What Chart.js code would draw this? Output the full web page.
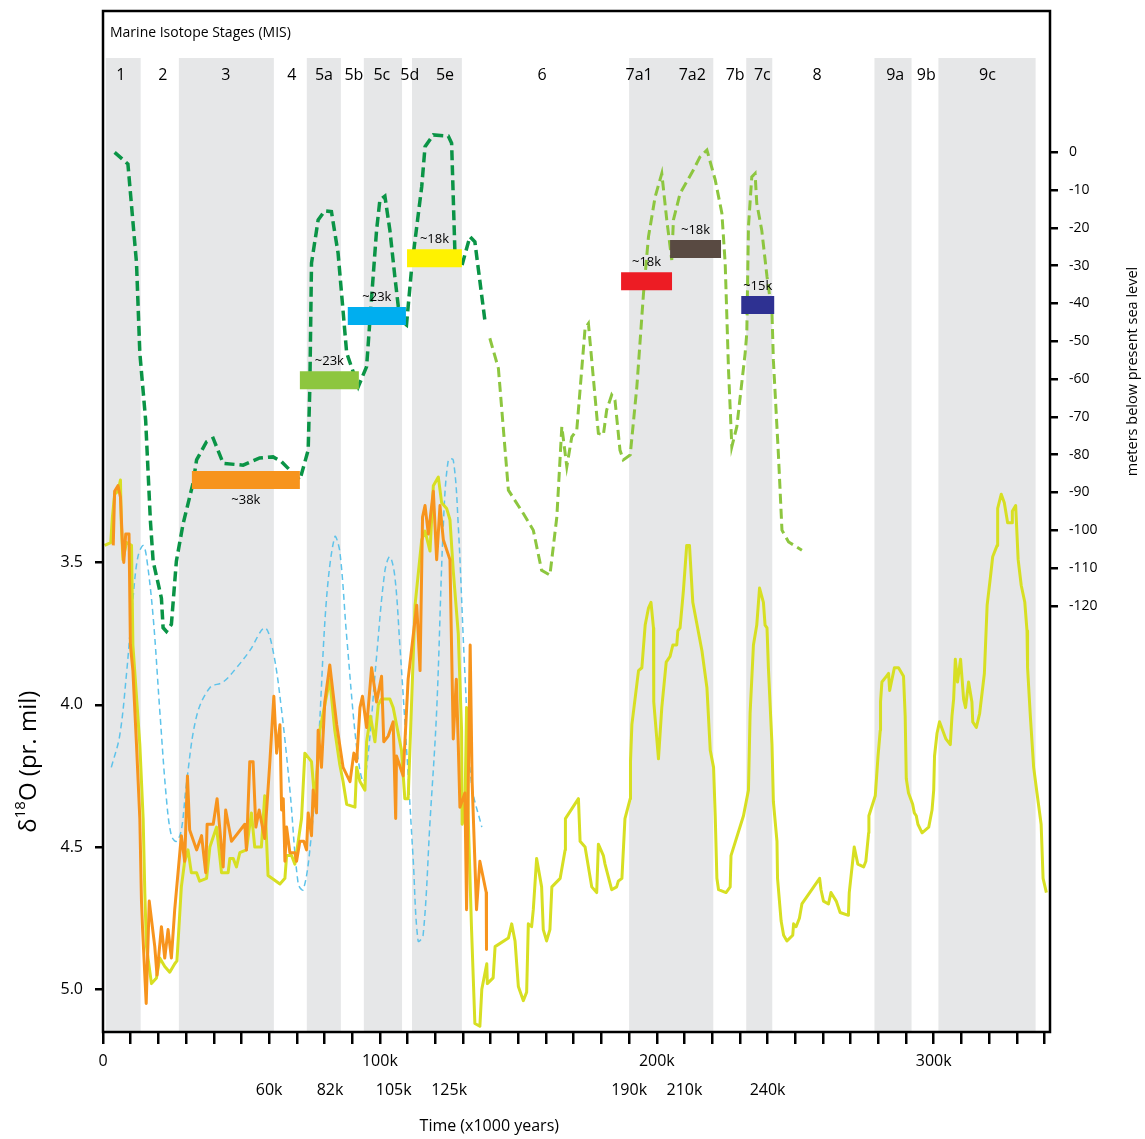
<!DOCTYPE html>
<html>
<head>
<meta charset="utf-8">
<title>Marine Isotope Stages</title>
<script src="https://cdn.jsdelivr.net/npm/chart.js@4.4.1/dist/chart.umd.min.js"></script>
<style>
  html, body { margin: 0; padding: 0; background: #fff; }
  canvas { display: block; }
</style>
</head>
<body>
<canvas id="misChart" width="1145" height="1139"></canvas>
<script>
// Data (age in kyr)
const yellowAge = [0.6,2.8,3.4,4.2,5.4,6.3,6.6,7.2,8.5,10.3,10.8,13.3,14.5,15.1,15.7,17.5,19.3,20.5,22.3,24.1,25.9,26.7,28.3,29.5,30.7,31.9,33.8,34.9,37.4,38.6,41.0,42.8,45.2,45.8,47.0,48.2,49.4,51.8,53.6,54.8,57.2,58.4,59.6,63.9,65.7,66.3,68.1,69.3,71.7,72.9,75.3,76.5,78.3,81.9,83.7,85.5,86.7,88.0,91.0,91.6,92.8,94.6,95.2,96.6,98.2,99.4,100.6,103.6,104.8,107.8,109.0,110.2,112.7,115.1,116.3,118.1,119.3,121.1,122.3,124.1,125.3,126.5,128.3,129.5,129.7,130.7,131.3,131.9,133.1,134.3,136.1,136.8,138.6,138.8,140.9,141.6,146.4,147.6,148.8,150.0,151.8,153.0,153.6,154.8,155.4,156.6,158.4,159.0,160.2,161.4,162.1,165.1,166.9,167.0,171.7,172.3,174.1,176.5,178.3,178.9,180.7,181.3,183.7,185.5,186.1,187.4,188.5,190.4,190.5,191.0,193.4,194.6,195.8,197.0,197.9,198.8,198.9,200.6,201.8,203.4,204.8,205.8,207.2,207.6,208.4,209.6,210.8,211.8,213.0,216.3,218.1,219.3,220.5,221.1,221.7,222.3,225.0,226.5,226.8,231.3,233.1,233.7,234.9,236.1,237.1,238.5,239.1,239.8,240.3,241.6,242.1,243.4,243.6,244.9,245.8,247.0,249.1,249.4,250.3,251.5,252.4,258.8,259.3,260.2,262.0,262.9,264.8,266.2,269.2,269.5,271.3,272.6,274.7,275.5,276.5,276.6,278.9,279.9,280.7,280.8,281.3,282.9,283.7,284.1,285.8,287.3,289.1,289.7,290.1,290.9,292.4,293.0,293.7,294.3,295.8,298.2,299.4,300.0,300.3,301.2,302.1,304.4,306.0,306.6,307.2,307.8,308.6,309.7,310.8,311.5,312.6,313.8,314.1,315.4,316.6,318.3,319.3,320.5,321.3,322.9,323.1,324.4,325.5,326.7,328.3,328.4,329.6,330.5,331.6,332.9,333.7,333.9,334.9,336.1,337.3,338.8,339.5,340.7];
const yellowD18O = [3.44,3.43,3.34,3.26,3.25,3.21,3.36,3.49,3.43,3.44,3.79,4.14,4.40,4.66,4.85,4.98,4.96,4.89,4.92,4.94,4.91,4.90,4.64,4.55,4.51,4.59,4.59,4.62,4.61,4.50,4.43,4.59,4.59,4.54,4.54,4.57,4.52,4.51,4.38,4.50,4.50,4.32,4.60,4.63,4.61,4.53,4.53,4.56,4.40,4.17,4.20,4.34,4.09,3.91,4.09,4.21,4.27,4.35,4.36,4.22,4.27,4.30,4.13,4.04,4.13,4.00,3.98,3.98,4.01,4.16,4.33,4.33,3.65,3.42,3.39,3.46,3.23,3.20,3.29,3.31,3.35,3.53,3.75,4.09,4.42,4.38,4.01,4.40,4.79,5.12,5.13,5.00,4.91,4.98,4.96,4.85,4.82,4.77,4.83,4.99,5.04,5.01,4.77,4.78,4.72,4.54,4.64,4.79,4.83,4.79,4.64,4.61,4.51,4.40,4.33,4.48,4.50,4.64,4.66,4.49,4.53,4.56,4.65,4.64,4.62,4.61,4.40,4.33,4.20,4.07,3.88,3.87,3.72,3.66,3.64,3.73,3.99,4.19,4.01,3.85,3.83,3.79,3.79,3.74,3.73,3.60,3.44,3.44,3.64,3.81,3.94,4.16,4.22,4.39,4.61,4.65,4.66,4.64,4.53,4.39,4.30,4.03,3.79,3.72,3.59,3.64,3.72,3.73,3.87,4.14,4.34,4.48,4.61,4.76,4.81,4.83,4.81,4.77,4.78,4.75,4.70,4.61,4.65,4.69,4.70,4.66,4.69,4.73,4.74,4.66,4.50,4.56,4.57,4.55,4.45,4.39,4.32,4.18,4.09,3.99,3.92,3.90,3.89,3.95,3.87,3.87,3.90,4.04,4.26,4.31,4.35,4.38,4.39,4.42,4.45,4.43,4.37,4.30,4.18,4.10,4.06,4.12,4.14,4.04,3.98,3.84,3.92,3.84,3.98,4.01,3.92,3.99,4.06,4.08,4.03,3.89,3.65,3.55,3.48,3.44,3.31,3.26,3.29,3.36,3.36,3.32,3.30,3.49,3.58,3.64,3.74,3.87,4.04,4.22,4.31,4.42,4.61,4.66];

const orangeAge = [3.7,4.2,5.4,6.3,7.0,7.5,8.2,9.4,9.9,10.8,12.1,13.3,13.9,14.3,15.6,16.7,18.7,19.5,21.1,22.3,23.5,24.7,25.9,28.3,29.5,30.5,31.3,33.8,35.6,37.1,37.6,39.8,41.2,43.4,44.3,46.4,51.2,51.8,53.0,54.2,55.2,56.4,58.4,60.2,61.7,62.7,63.9,64.5,65.1,65.7,66.3,67.5,69.3,69.9,71.1,72.5,73.5,74.1,75.3,75.9,77.1,77.7,78.9,80.1,81.9,84.4,86.7,89.2,90.6,91.6,92.8,93.7,95.2,97.0,98.8,100.6,101.4,103.0,104.8,105.7,106.0,108.4,110.2,113.3,114.5,115.4,116.3,117.5,119.3,120.5,121.7,122.9,125.3,126.5,127.6,128.3,128.9,130.7,131.3,132.6,133.3,134.9,136.1,138.4,138.5];
const orangeD18O = [3.44,3.25,3.23,3.27,3.43,3.50,3.40,3.40,3.79,3.88,4.14,4.40,4.69,4.79,5.05,4.69,4.85,4.95,4.78,4.89,4.79,4.89,4.72,4.46,4.55,4.25,4.44,4.51,4.46,4.59,4.42,4.42,4.33,4.57,4.37,4.48,4.42,4.51,4.20,4.20,4.43,4.37,4.47,4.21,3.97,4.17,4.07,4.37,4.33,4.55,4.43,4.52,4.52,4.55,4.48,4.48,4.51,4.38,4.46,4.30,4.38,4.09,4.22,3.99,3.86,4.07,4.22,4.27,4.17,4.20,4.01,3.97,4.08,3.87,3.99,3.90,4.13,4.11,4.06,4.40,4.18,4.25,3.91,3.65,3.88,3.34,3.30,3.40,3.25,3.49,3.30,3.42,3.49,4.12,3.91,4.14,4.36,4.31,4.72,3.79,4.27,4.72,4.55,4.66,4.86];

// thin blue dashed curve (plotted against the left axis)
const blueAge = [3.0,6.0,8.5,10.8,12.6,14.5,15.7,18.1,20.5,22.9,24.7,26.5,28.3,30.1,33.8,38.6,43.4,48.2,53.0,58.4,61.4,64.5,67.5,70.5,72.3,74.7,77.7,80.7,83.7,85.5,88.0,91.6,94.0,95.8,98.8,101.8,103.6,105.4,107.2,109.6,112.0,113.8,115.6,118.1,120.5,122.9,124.7,126.5,128.3,130.7,133.1,136.8];
const blueVal = [4.22,4.11,3.89,3.63,3.48,3.44,3.48,3.69,4.02,4.33,4.46,4.48,4.44,4.28,4.04,3.94,3.92,3.87,3.81,3.73,3.81,4.02,4.30,4.63,4.65,4.51,4.15,3.63,3.41,3.46,3.76,4.15,4.27,4.17,3.83,3.53,3.48,3.55,3.79,4.15,4.54,4.83,4.81,4.41,4.02,3.37,3.14,3.14,3.37,3.89,4.28,4.43];

// sea level (m), right axis
const greenAge = [4.2,9.0,12.1,13.3,15.4,17.1,18.1,21.1,21.7,22.9,24.7,26.5,28.9,32.5,33.8,37.4,39.8,43.4,50.6,56.6,61.4,64.5,67.5,71.1,74.1,74.7,75.3,77.7,80.1,82.5,84.9,88.0,92.2,95.2,96.4,98.8,100.0,101.8,103.6,105.4,107.2,109.6,111.5,115.1,116.3,119.3,124.7,125.9,127.1,129.5,132.5,134.3,137.9];
const greenSea = [0,-3.1,-29.3,-53.1,-70.9,-97.3,-108.2,-118.0,-125.8,-126.8,-124.9,-108.2,-98.4,-87.6,-81.4,-76.6,-75.7,-82.3,-82.8,-80.9,-80.6,-81.9,-84.1,-86.7,-78.8,-62.0,-29.3,-17.9,-15.5,-15.7,-26.7,-53.1,-62.0,-56.7,-44.4,-20.6,-12.6,-11.6,-20.6,-32.9,-44.4,-45.7,-30.3,-9.1,1.5,4.6,4.3,2.4,-26.7,-30.3,-22.3,-23.7,-44.4];
const limeAge = [139.7,142.8,146.4,151.8,155.4,158.4,161.4,163.9,165.7,167.5,169.3,171.1,174.1,175.3,178.9,180.7,181.9,183.7,184.9,186.7,187.9,190.4,192.8,195.2,197.0,199.4,201.8,203.6,205.4,206.0,208.4,210.8,213.2,215.6,218.1,221.1,223.5,224.7,225.9,227.1,228.9,231.9,232.5,233.1,234.3,235.5,236.1,237.9,239.8,241.6,242.1,243.9,245.2,247.6,252.4];
const limeSea = [-49.2,-57.2,-89.4,-95.6,-100.0,-110.6,-111.9,-96.5,-72.6,-83.2,-75.3,-73.5,-46.6,-45.3,-74.4,-74.8,-68.2,-64.2,-65.6,-78.8,-81.4,-80.1,-62.0,-37.3,-22.3,-11.8,-5.6,-17.9,-28.5,-17.9,-10.9,-7.8,-4.7,-1.2,0.6,-7.3,-16.1,-29.4,-57.6,-77.9,-72.6,-53.2,-47.9,-19.7,-6.5,-5.6,-13.5,-20.6,-32.9,-42.6,-55.0,-79.7,-100.0,-103.1,-105.3];

// highstand duration bars
const barStart = [32.1, 71.1, 88.4, 109.8, 187.1, 204.8, 230.5];
const barEnd = [71.1, 92.4, 109.4, 129.6, 205.5, 223.2, 242.4];
const barLevel = [-86.7, -60.3, -43.3, -28.0, -34.1, -25.6, -40.4];
const barLabels = ['~38k', '~23k', '~23k', '~18k', '~18k', '~18k', '~15k'];
const barLabelBelow = [true, false, false, false, false, false, false];
const barColors = ['#f7941d', '#8dc63f', '#00aeef', '#fff200', '#ed1c24', '#594a42', '#2e3192'];

// marine isotope stages
const stageBandStart = [1.0, 27.4, 73.6, 94.2, 111.6, 190.0, 232.3, 278.6, 301.7];
const stageBandEnd = [13.6, 61.7, 85.9, 108.0, 129.6, 220.4, 241.7, 292.0, 336.8];
const stageNames = ['1','2','3','4','5a','5b','5c','5d','5e','6','7a1','7a2','7b','7c','8','9a','9b','9c'];
const stageLabelAge = [6.4,21.6,44.4,68.2,79.8,90.6,100.7,110.8,123.5,158.6,193.6,212.8,228.3,238.1,257.9,286.1,297.3,319.4];

// axes
const xTickAges = [0,10,20,30,40,50,60,70,80,90,100,110,120,130,140,150,160,170,180,190,200,210,220,230,240,250,260,270,280,290,300,310,320,330,340];
const xMajorAges = [0, 100, 200, 300];
const xMajorText = ['0', '100k', '200k', '300k'];
const xBoundaryAges = [60, 82, 105, 125, 190, 210, 240];
const xBoundaryText = ['60k', '82k', '105k', '125k', '190k', '210k', '240k'];
const d18oTicks = [3.5, 4.0, 4.5, 5.0];
const seaTicks = [0,-10,-20,-30,-40,-50,-60,-70,-80,-90,-100,-110,-120];

const FONT = "'Open Sans', 'Noto Sans', sans-serif";
Chart.defaults.font.family = FONT;
Chart.defaults.color = '#000';

const toPoints = (xs, ys) => xs.map((x, i) => ({ x: x, y: ys[i] }));

const barSets = barStart.map((s, i) => ({
  data: [{ x: s, y: barLevel[i] }, { x: barEnd[i], y: barLevel[i] }],
  yAxisID: 'ySea', borderColor: barColors[i], borderWidth: 18, borderCapStyle: 'butt',
  pointRadius: 0, fill: false
}));

const lineSets = [
  { data: toPoints(greenAge, greenSea), yAxisID: 'ySea', borderColor: '#0a9446', borderWidth: 3.5, borderDash: [10, 5], pointRadius: 0, fill: false },
  { data: toPoints(limeAge, limeSea), yAxisID: 'ySea', borderColor: '#8dc63f', borderWidth: 3, borderDash: [10, 5], pointRadius: 0, fill: false },
  { data: toPoints(orangeAge, orangeD18O), yAxisID: 'y', borderColor: '#f7941d', borderWidth: 3, borderJoinStyle: 'round', pointRadius: 0, fill: false },
  { data: toPoints(yellowAge, yellowD18O), yAxisID: 'y', borderColor: '#d7df23', borderWidth: 3, borderJoinStyle: 'round', pointRadius: 0, fill: false },
  { data: toPoints(blueAge, blueVal), yAxisID: 'y', borderColor: '#5ec3ea', borderWidth: 1.5, borderDash: [6, 4], tension: 0.35, pointRadius: 0, fill: false }
];

const misOverlay = {
  id: 'misOverlay',
  beforeDatasetsDraw(chart) {
    const { ctx, chartArea, scales } = chart;
    const xs = scales.x;
    ctx.save();
    ctx.fillStyle = '#e6e7e8';
    stageBandStart.forEach((s, i) => {
      const x0 = xs.getPixelForValue(s), x1 = xs.getPixelForValue(stageBandEnd[i]);
      ctx.fillRect(x0, chartArea.top + 47, x1 - x0, chartArea.bottom - chartArea.top - 47);
    });
    ctx.fillStyle = '#000';
    ctx.textBaseline = 'middle';
    ctx.textAlign = 'left';
    ctx.font = '14px ' + FONT;
    ctx.fillText('Marine Isotope Stages (MIS)', chartArea.left + 7, chartArea.top + 22);
    ctx.textAlign = 'center';
    ctx.font = '16px ' + FONT;
    stageNames.forEach((n, i) => ctx.fillText(n, xs.getPixelForValue(stageLabelAge[i]), chartArea.top + 64));
    ctx.restore();
  },
  afterDatasetsDraw(chart) {
    const { ctx, scales } = chart;
    ctx.save();
    ctx.fillStyle = '#000';
    ctx.font = '13px ' + FONT;
    ctx.textAlign = 'center';
    ctx.textBaseline = 'middle';
    barLabels.forEach((t, i) => {
      const xc = scales.x.getPixelForValue((barStart[i] + barEnd[i]) / 2);
      const yc = scales.ySea.getPixelForValue(barLevel[i]);
      ctx.fillText(t, xc, barLabelBelow[i] ? yc + 20 : yc - 19);
    });
    ctx.restore();
  },
  afterDraw(chart) {
    const { ctx, chartArea, scales } = chart;
    ctx.save();
    ctx.strokeStyle = '#000';
    ctx.lineWidth = 2.5;
    ctx.strokeRect(chartArea.left, chartArea.top, chartArea.right - chartArea.left, chartArea.bottom - chartArea.top);

    ctx.fillStyle = '#000';
    ctx.textAlign = 'center';
    ctx.textBaseline = 'middle';
    ctx.font = '16px ' + FONT;
    xBoundaryText.forEach((t, i) => ctx.fillText(t, scales.x.getPixelForValue(xBoundaryAges[i]), chartArea.bottom + 58));
    ctx.fillText('Time (x1000 years)', scales.x.getPixelForValue(139.5), chartArea.bottom + 94);

    // right axis title
    ctx.save();
    ctx.translate(1133, scales.ySea.getPixelForValue(-58));
    ctx.rotate(-Math.PI / 2);
    ctx.font = '14.5px ' + FONT;
    ctx.fillText('meters below present sea level', 0, 0);
    ctx.restore();

    // left axis title with superscript
    ctx.save();
    ctx.translate(29, scales.y.getPixelForValue(4.2));
    ctx.rotate(-Math.PI / 2);
    ctx.textAlign = 'left';
    const big = '24px ' + FONT, small = '15px ' + FONT;
    ctx.font = big; const w1 = ctx.measureText('δ').width;
    ctx.font = small; const w2 = ctx.measureText('18').width;
    ctx.font = big; const w3 = ctx.measureText('O (pr. mil)').width;
    let x = -(w1 + w2 + w3) / 2;
    ctx.font = big; ctx.fillText('δ', x, 0); x += w1;
    ctx.font = small; ctx.fillText('18', x, -8); x += w2;
    ctx.font = big; ctx.fillText('O (pr. mil)', x, 0);
    ctx.restore();
    ctx.restore();
  }
};

const tickGrid = (len) => ({ drawOnChartArea: false, color: '#000', tickLength: len, tickWidth: 2.5, lineWidth: 2.5 });
// drop the label overflow padding Chart.js reserves, so the plot frame sits where the figure has it
const noPad = s => { s.paddingTop = 0; s.paddingBottom = 0; s.paddingLeft = 0; s.paddingRight = 0; };

new Chart(document.getElementById('misChart'), {
  type: 'line',
  data: { datasets: barSets.concat(lineSets) },
  options: {
    responsive: false,
    animation: false,
    devicePixelRatio: 1,
    layout: { padding: { top: 11, left: 0, right: 0, bottom: 0 } },
    plugins: { legend: { display: false }, tooltip: { enabled: false } },
    scales: {
      x: {
        type: 'linear', min: 0, max: 342,
        afterBuildTicks: s => { s.ticks = xTickAges.map(v => ({ value: v })); },
        afterFit: s => { s.height = 107; noPad(s); },
        ticks: {
          autoSkip: false, maxRotation: 0, padding: 8, font: { size: 16 },
          callback: v => { const i = xMajorAges.indexOf(v); return i >= 0 ? xMajorText[i] : ''; }
        },
        grid: tickGrid(12),
        border: { display: false }
      },
      y: {
        type: 'linear', position: 'left', reverse: true, min: 1.562, max: 5.15,
        afterBuildTicks: s => { s.ticks = d18oTicks.map(v => ({ value: v })); },
        afterFit: s => { s.width = 103; noPad(s); },
        ticks: { padding: 12, font: { size: 16 }, callback: v => v.toFixed(1) },
        grid: tickGrid(8),
        border: { display: false }
      },
      ySea: {
        type: 'linear', position: 'right', min: -232.8, max: 37.4,
        afterBuildTicks: s => { s.ticks = seaTicks.map(v => ({ value: v })); },
        afterFit: s => { s.width = 95; noPad(s); },
        ticks: { padding: 11, font: { size: 14 }, callback: v => String(v) },
        grid: tickGrid(8),
        border: { display: false }
      }
    }
  },
  plugins: [misOverlay]
});
</script>
</body>
</html>
